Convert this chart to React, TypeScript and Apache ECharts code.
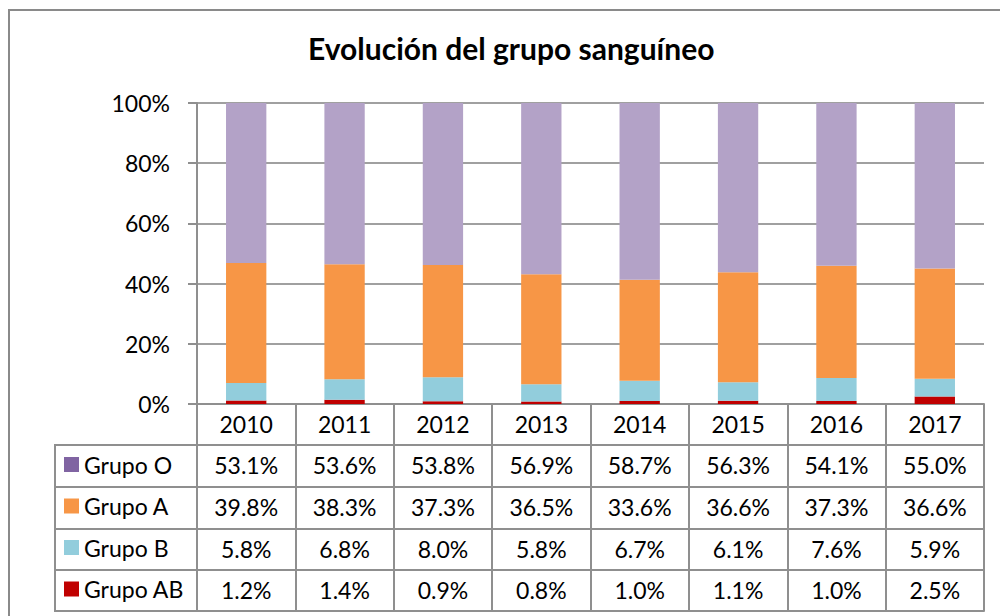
import React, { useEffect, useRef } from "react";
import * as echarts from "echarts";

const years = ["2010", "2011", "2012", "2013", "2014", "2015", "2016", "2017"];
const grupoO = [53.1, 53.6, 53.8, 56.9, 58.7, 56.3, 54.1, 55.0];
const grupoA = [39.8, 38.3, 37.3, 36.5, 33.6, 36.6, 37.3, 36.6];
const grupoB = [5.8, 6.8, 8.0, 5.8, 6.7, 6.1, 7.6, 5.9];
const grupoAB = [1.2, 1.4, 0.9, 0.8, 1.0, 1.1, 1.0, 2.5];
const seriesNames = ["Grupo O", "Grupo A", "Grupo B", "Grupo AB"];
const yTicks = [0, 20, 40, 60, 80, 100];

const FONT = "Lato";
const FS = 23;
const LINE = "#8f8f8f";
const ROW_OFFSETS = [0, 41, 83, 125, 166, 207];

const barColors: Record<string, string> = {
  "Grupo O": "#B3A2C7",
  "Grupo A": "#F79646",
  "Grupo B": "#92CDDC",
  "Grupo AB": "#C00000",
};
const legendColors: Record<string, string> = {
  "Grupo O": "#8064A2",
  "Grupo A": "#F79646",
  "Grupo B": "#92CDDC",
  "Grupo AB": "#C00000",
};

export default function App() {
  const ref = useRef<HTMLDivElement>(null);

  useEffect(() => {
    document.body.style.margin = "0";
    if (!ref.current) return;
    const chart = echarts.init(ref.current, undefined, { renderer: "svg" });

    const raw: Record<string, number[]> = {
      "Grupo O": grupoO,
      "Grupo A": grupoA,
      "Grupo B": grupoB,
      "Grupo AB": grupoAB,
    };
    const totals = years.map(
      (_, i) => grupoO[i] + grupoA[i] + grupoB[i] + grupoAB[i]
    );
    const norm = (arr: number[]) => arr.map((v, i) => (v / totals[i]) * 100);

    const rowAxis = (idx: number, data: string[], showLabel: boolean, tick: boolean) => ({
      type: "category",
      gridIndex: 0,
      position: "bottom",
      offset: ROW_OFFSETS[idx],
      data,
      axisLine: { show: true, lineStyle: { color: LINE, width: 2 } },
      axisTick: {
        show: tick,
        inside: false,
        length: tick ? ROW_OFFSETS[idx + 1] - ROW_OFFSETS[idx] : 0,
        interval: 0,
        lineStyle: { color: LINE, width: 2 },
      },
      axisLabel: {
        show: showLabel,
        interval: 0,
        margin: 8,
        fontFamily: FONT,
        fontSize: FS,
        color: "#000",
      },
      splitLine: { show: false },
    });

    const fmt = (arr: number[]) => arr.map((v) => v.toFixed(1) + "%");

    const option: any = {
      animation: false,
      backgroundColor: "#fff",
      title: {
        text: "Evolución del grupo sanguíneo",
        left: 303,
        top: 28,
        textStyle: {
          fontFamily: FONT,
          fontWeight: "bold",
          fontSize: 30,
          color: "#000",
        },
      },
      legend: {
        orient: "vertical",
        left: 64,
        top: 453,
        padding: 0,
        itemWidth: 15,
        itemHeight: 15,
        itemGap: 18.5,
        icon: "rect",
        selectedMode: false,
        textStyle: {
          fontFamily: FONT,
          fontSize: FS,
          color: "#000",
        },
        data: seriesNames.map((n) => ({
          name: n,
          itemStyle: { color: legendColors[n] },
        })),
      },
      grid: { left: 197, right: 16, top: 103, bottom: 212, containLabel: false },
      xAxis: [
        rowAxis(0, years, true, true),
        rowAxis(1, fmt(grupoO), true, true),
        rowAxis(2, fmt(grupoA), true, true),
        rowAxis(3, fmt(grupoB), true, true),
        rowAxis(4, fmt(grupoAB), true, true),
        rowAxis(5, years.map(() => ""), false, false),
      ],
      yAxis: {
        type: "value",
        min: 0,
        max: 100,
        interval: 20,
        axisLine: { show: true, lineStyle: { color: LINE, width: 2 } },
        axisTick: { show: true, length: 9, lineStyle: { color: LINE, width: 2 } },
        splitLine: { show: true, lineStyle: { color: "#a0a0a0", width: 2 } },
        axisLabel: {
          margin: 27,
          fontFamily: FONT,
          fontSize: FS,
          color: "#000",
          formatter: (v: number) => (yTicks.includes(v) ? v + "%" : ""),
        },
      },
      series: ["Grupo AB", "Grupo B", "Grupo A", "Grupo O"].map((n) => ({
        name: n,
        type: "bar",
        stack: "total",
        xAxisIndex: 0,
        barWidth: "41%",
        itemStyle: { color: barColors[n] },
        data: norm(raw[n]),
      })),
      graphic: [
        {
          type: "polyline",
          shape: { points: [[9, 700], [9, 10], [1010, 10]] },
          style: { stroke: "#8a8a8a", lineWidth: 2, fill: "none" },
          silent: true,
        },
        {
          type: "polyline",
          shape: { points: [[197, 445], [55, 445], [55, 611], [197, 611]] },
          style: { stroke: LINE, lineWidth: 2, fill: "none" },
          silent: true,
        },
        ...[487, 529, 570].map((y) => ({
          type: "line",
          shape: { x1: 55, y1: y, x2: 197, y2: y },
          style: { stroke: LINE, lineWidth: 2 },
          silent: true,
        })),
      ],
    };

    chart.setOption(option);
    return () => chart.dispose();
  }, []);

  return <div ref={ref} style={{ width: 1000, height: 616 }} />;
}
